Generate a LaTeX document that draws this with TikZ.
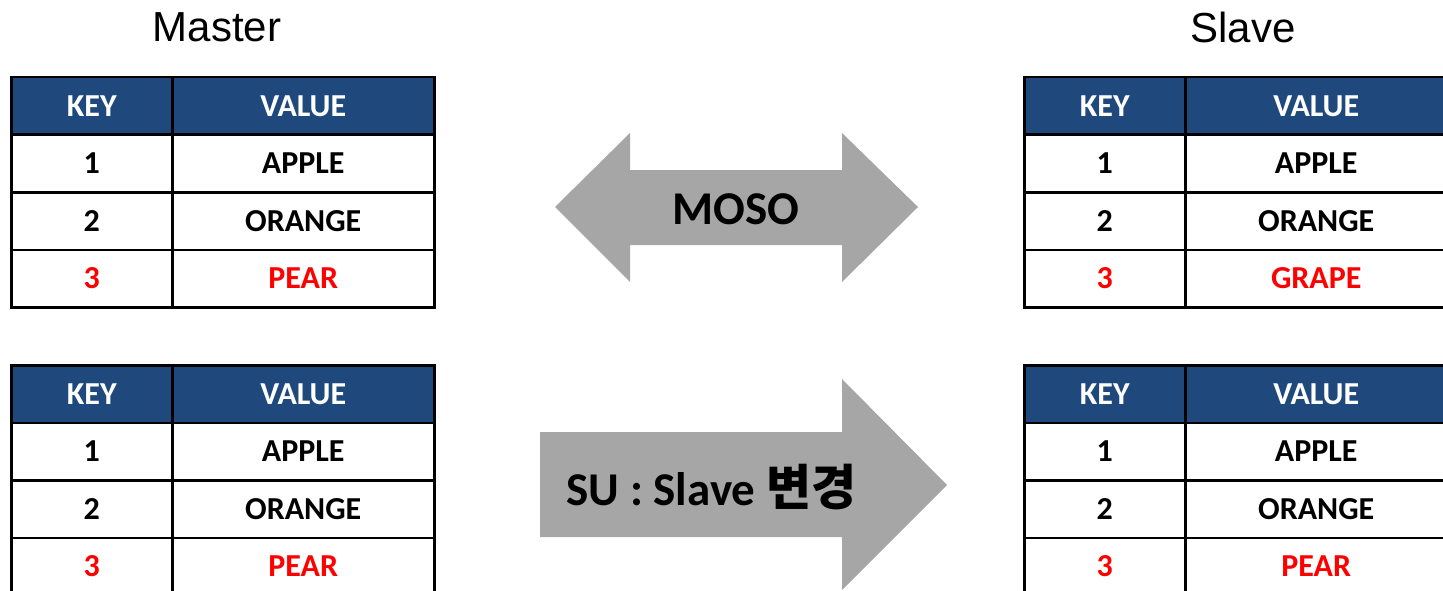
\documentclass[tikz,border=0pt]{standalone}
\usepackage{fontspec}
\setmainfont{Carlito}
\newfontfamily\titlefont{Liberation Sans}
\newfontfamily\krfont{Noto Sans CJK KR}

\definecolor{headblue}{HTML}{1F497D}
\definecolor{arrowgray}{HTML}{A6A6A6}
\definecolor{keyred}{HTML}{FF0000}

\tikzset{
    cell/.style={draw=black, line width=2.5pt, inner sep=0pt, anchor=north west,
        minimum height=57.5pt, font=\bfseries\fontsize{32}{36}\selectfont},
    keycell/.style={cell, minimum width=161pt},
    valcell/.style={cell, minimum width=262pt},
    headcell/.style={fill=headblue, text=white},
    bigarrow/.style={fill=arrowgray},
    arrowtext/.style={font=\bfseries\fontsize{47}{52}\selectfont},
    title/.style={font=\titlefont\fontsize{42}{46}\selectfont},
}

% one key/value table, #1 name, (#2,#3) top left, #4 value of key 3
\newcommand{\kvtable}[4]{%
    \begin{scope}[shift={(#2,#3)}]
        \node[keycell, headcell] (#1-k0) at (0,0) {KEY};
        \node[valcell, headcell] (#1-v0) at (161,0) {VALUE};
        \foreach \n/\fruit/\c in {1/APPLE/black, 2/ORANGE/black, 3/#4/keyred} {
            \node[keycell, text=\c] (#1-k\n) at (0,57.5*\n) {\n};
            \node[valcell, text=\c] (#1-v\n) at (161,57.5*\n) {\fruit};
        }
    \end{scope}}

\begin{document}
\begin{tikzpicture}[x=1pt, y=-1pt]
    \path[use as bounding box, clip] (0,0) rectangle (1443,591);

    \node[title] (master) at (217,27) {Master};
    \node[title] (slave) at (1243,27) {Slave};

    \kvtable{mtop}{10}{76}{PEAR}
    \kvtable{stop}{1023}{76}{GRAPE}
    \kvtable{mbot}{10}{364}{PEAR}
    \kvtable{sbot}{1023}{364}{PEAR}

    % both ways
    \fill[bigarrow] (555,207) -- (630,133) -- (630,170) -- (842,170) -- (842,133)
        -- (918,207) -- (842,282) -- (842,245) -- (630,245) -- (630,282) -- cycle;
    \node[arrowtext] (moso) at (736,209) {MOSO};

    % master to slave only
    \fill[bigarrow] (540,432) -- (842,432) -- (842,379) -- (947,485)
        -- (842,590) -- (842,537) -- (540,537) -- cycle;
    \node[arrowtext, anchor=west] (su) at (563,487) {SU : Slave {\krfont\fontsize{49}{52}\selectfont 변경}};
\end{tikzpicture}
\end{document}
